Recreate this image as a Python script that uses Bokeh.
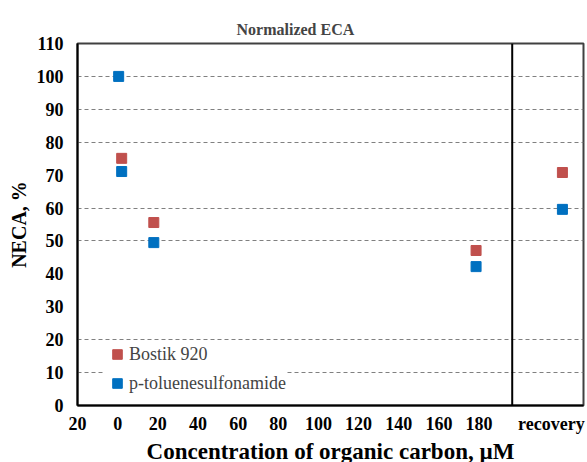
from bokeh.plotting import figure
from bokeh.models import FixedTicker, Span, Legend, LegendItem, Range1d
from bokeh.embed import file_html
from bokeh.resources import INLINE

# data
bostik_x = [2, 18, 178.5, 221.5]
bostik_y = [75.1, 55.6, 47.1, 70.8]
ptsa_x = [0.5, 2, 18, 178.5, 221.5]
ptsa_y = [100, 71.1, 49.5, 42.2, 59.6]
x_ticks = [-20, 0, 20, 40, 60, 80, 100, 120, 140, 160, 180, 216]
x_labels = ["20", "0", "20", "40", "60", "80", "100", "120", "140", "160", "180", "recovery"]
y_ticks = list(range(0, 111, 10))
grid_ticks = [10, 20, 50, 60, 80, 90, 100]
separator_x = 196.5

FONT = "Liberation Serif"

p = figure(output_backend="svg", toolbar_location=None,
           x_range=Range1d(-20, 232), y_range=Range1d(0, 110),
           min_border_left=77, min_border_right=4, min_border_top=43, min_border_bottom=57)
p.frame_width = 506
p.frame_height = 362

p.title.text = "Normalized ECA"
p.title.text_font = FONT
p.title.text_font_size = "16px"
p.title.text_font_style = "bold"
p.title.align = "left"
p.title.offset = 159
p.title.vertical_align = "middle"
p.title.standoff = 10

p.xaxis.ticker = FixedTicker(ticks=x_ticks)
p.xaxis.major_label_overrides = {t: l for t, l in zip(x_ticks, x_labels)}
p.yaxis.ticker = FixedTicker(ticks=y_ticks)
for ax in (p.xaxis, p.yaxis):
    ax.major_label_text_font = FONT
    ax.major_label_text_font_size = "18px"
    ax.major_label_text_font_style = "bold"
    ax.major_label_text_color = "black"
    ax.major_tick_line_color = None
    ax.major_tick_out = 0
    ax.major_tick_in = 0
    ax.minor_tick_line_color = None
    ax.minor_tick_out = 0
    ax.axis_line_color = "black"
    ax.axis_line_width = 2
    ax.axis_label_text_font = FONT
    ax.axis_label_text_font_style = "bold"
    ax.axis_label_text_color = "black"
p.xaxis.axis_label = "Concentration of organic carbon, µM"
p.yaxis.axis_label = "NECA, %"
p.xaxis.axis_label_text_font_size = "23px"
p.yaxis.axis_label_text_font_size = "20px"
p.xaxis.major_label_standoff = 8
p.yaxis.major_label_standoff = 14
p.xaxis.axis_label_standoff = 2
p.yaxis.axis_label_standoff = 4

p.xgrid.visible = False
p.ygrid.ticker = FixedTicker(ticks=grid_ticks)
p.ygrid.grid_line_color = "#808080"
p.ygrid.grid_line_dash = "4 3"
p.ygrid.grid_line_width = 1

p.outline_line_color = "#404040"
p.outline_line_width = 2

p.add_layout(Span(location=separator_x, dimension="height", line_color="black", line_width=2))

r1 = p.scatter(bostik_x, bostik_y, marker="square", size=10, fill_color="#C0504D", line_color="#C0504D")
r2 = p.scatter(ptsa_x, ptsa_y, marker="square", size=10, fill_color="#0070C0", line_color="#0070C0")

legend = Legend(items=[LegendItem(label="Bostik 920", renderers=[r1]),
                       LegendItem(label="p-toluenesulfonamide", renderers=[r2])],
                location=(28, 10), border_line_color=None, background_fill_color="white",
                background_fill_alpha=1, label_text_font=FONT, label_text_font_size="18px",
                glyph_width=24, glyph_height=24, label_standoff=0, spacing=5, padding=0,
                label_height=19)
p.add_layout(legend)

open("out.html", "w").write(file_html(p, INLINE))
